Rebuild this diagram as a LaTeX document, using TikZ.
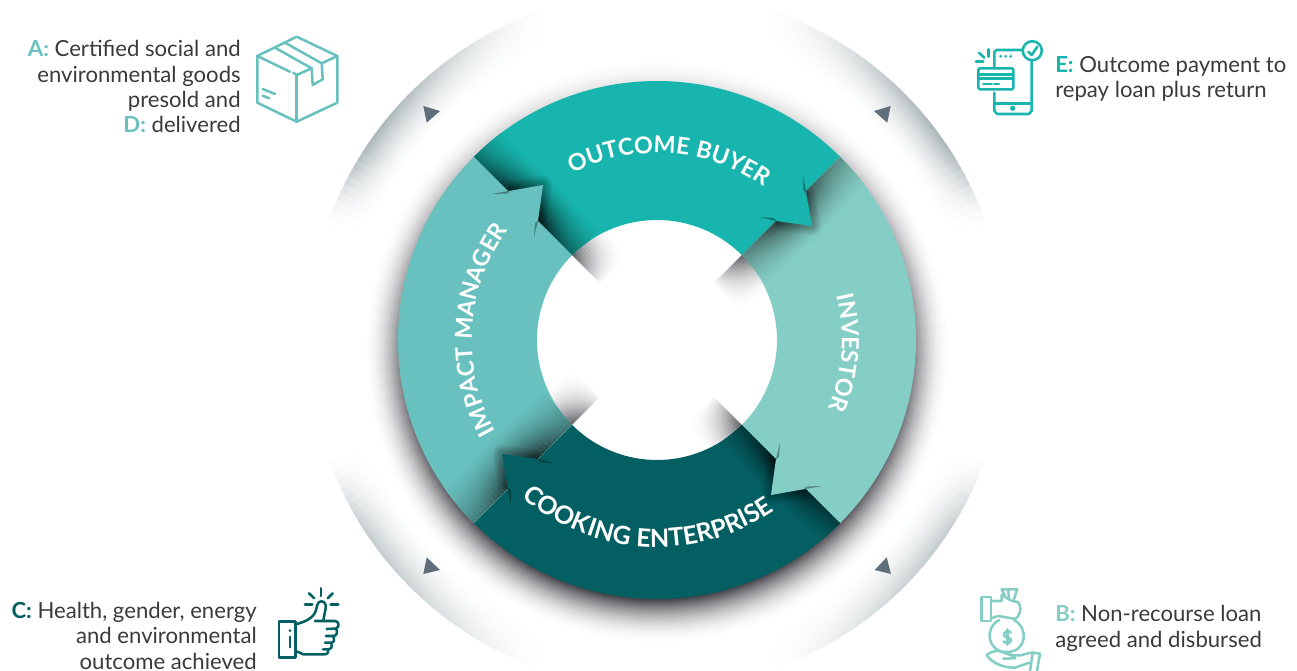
\documentclass[tikz,border=0pt]{standalone}
\usepackage{fontspec}
\setmainfont{Lato}
\newfontfamily\ringfont[LetterSpace=2]{Lato}
\usetikzlibrary{decorations.text}
\definecolor{cout}{HTML}{17B5AD}
\definecolor{cinv}{HTML}{84CEC5}
\definecolor{ccook}{HTML}{045F63}
\definecolor{cimp}{HTML}{68C1BF}
\definecolor{shc}{HTML}{26262E}
\definecolor{bandc}{HTML}{74868B}
\definecolor{tric}{HTML}{5F6F7C}
\definecolor{txt}{HTML}{3A3A3A}
\tikzset{
  icon/.style={line width=1.9pt,line cap=round,line join=round},
  marker/.style={fill=tric},
  blocktext/.style={inner sep=0pt,text=txt,font=\fontsize{16.6}{19}\selectfont},
  ringtext/.style={decorate}
}
\newcommand\ringlab[2]{|\ringfont\bfseries\fontsize{#1}{#1}\selectfont\color{white}|#2}
\begin{document}
\begin{tikzpicture}[x=.75pt,y=.75pt]
\useasboundingbox (-657,-331) rectangle (640,340);
% outer grey bands
\foreach \ph/\sx/\sy/\st in {0/1/1/.60,1/-1/1/.60,2/-1/-1/.42,3/1/-1/.42}{
  \foreach \al in {19,20.5,...,70}{
    \pgfmathsetmacro\gu{min(1,(\al-18)/16)}
    \pgfmathsetmacro\gv{min(1,(72-\al)/36)}
    \pgfmathsetmacro\g{\gu*\gu*(3-2*\gu)*\gv*\gv*(3-2*\gv)}
    \foreach \r in {305,307,...,347}{
      \pgfmathsetmacro\f{pow((\r-304)/44,1.7)}
      \pgfmathsetmacro\v{100*\st*\g*\f}
      \ifdim\v pt<0.5pt\else
      \fill[bandc!\v!white,xscale=\sx,yscale=\sy] (\al:\r) -- (\al+1.7:\r) -- (\al+1.7:\r+2.4) -- (\al:\r+2.4) -- cycle;
      \fi
    }
  }
}
% shadow round the ring
\foreach \a in {0,3,...,357}{
  \pgfmathsetmacro\sn{sin(\a+1.5)}
  \pgfmathsetmacro\I{.09+.74*(1-\sn)/2}
  \pgfmathsetmacro\Re{281+22*(1-\sn)/2}
  \foreach \r in {303,301,...,257}{
    \pgfmathsetmacro\q{max(0,(\Re-\r)/(\Re-259))}
    \pgfmathsetmacro\v{min(100,100*\I*\q*\q)}
    \ifdim\v pt<0.4pt\else
    \fill[shc!\v!white] (\a:\r) -- (\a+3.3:\r) -- (\a+3.3:\r+2.5) -- (\a:\r+2.5) -- cycle;
    \fi
  }
}
% shadows falling into the hole
\foreach \k in {0,1,2,3}{
  \begin{scope}[rotate=135-90*\k]
    \foreach \t in {39,36,...,0}{
      \pgfmathsetmacro\tf{pow(1-\t/40,1.5)}
      \foreach \s in {78,81,...,123}{
        \pgfmathsetmacro\v{100*.72*\tf*(\s-78)/42}
        \ifdim\v pt<0.4pt\else
        \fill[shc!\v!white] (\s,-\t) rectangle (\s+3.4,-\t-3.4);
        \fi
      }
    }
  \end{scope}
}
% sectors with the shadow cast by the previous arrow
\foreach \k/\col/\pk/\wd in {0/cout/.92/38,1/cinv/.72/40,2/ccook/.8/30,3/cimp/.8/46}{
  \begin{scope}[rotate=-90*\k]
    \fill[\col] (135:259) arc[start angle=135,end angle=45,radius=259] -- (45:120) arc[start angle=45,end angle=135,radius=120] -- cycle;
    \begin{scope}
      \clip (135:259) arc[start angle=135,end angle=45,radius=259] -- (45:120) arc[start angle=45,end angle=135,radius=120] -- cycle;
      \begin{scope}[rotate=135]
        \foreach \s in {118,123,...,258}{
          \pgfmathsetmacro\ss{\pk*(.38+.62*exp(-pow((\s+2-185)/42,2)))}
          \foreach \t in {46,44,...,0}{
            \pgfmathsetmacro\q{max(0,1-\t/\wd)}
            \pgfmathsetmacro\v{100*\ss*pow(\q,1.5)}
            \ifdim\v pt<0.4pt\else
            \fill[black!\v!\col] (\s,-\t) rectangle (\s+5.4,-\t-2.4);
            \fi
          }
        }
      \end{scope}
      \foreach \lw in {18,14,10,6}{
        \draw[black,opacity=.06,line width=\lw*.75pt,line join=round] (-148,149) -- (-114,155) -- (-119,119);
      }
    \end{scope}
  \end{scope}
}
% arrow heads
\foreach \k/\up in {0/cimp,1/cout,2/cinv,3/ccook}{
  \begin{scope}[rotate=-90*\k]
    \fill[\up] (-148,149) -- (-114,155) -- (-119,119) -- (-140,125) -- cycle;
    \fill[\up!65!black] (-165,146) -- (-147,149.3) -- (-150,146.5) -- cycle;
    \fill[\up!65!black] (-123,103) -- (-118.7,120) -- (-122,116.5) -- cycle;
  \end{scope}
}
% ring labels
\path[ringtext,decoration={text along path,text align=center,text={\ringlab{17.5}{OUTCOME BUYER}}}] (131:187) arc[start angle=131,end angle=41,radius=187];
\path[ringtext,decoration={text along path,text align=center,text={\ringlab{17.5}{INVESTOR}}}] (41:185) arc[start angle=41,end angle=-49,radius=185];
\path[ringtext,decoration={text along path,text align=center,text={\ringlab{18.8}{COOKING ENTERPRISE}}}] (217:207) arc[start angle=217,end angle=317,radius=207];
\path[ringtext,decoration={text along path,text align=center,text={\ringlab{17.5}{IMPACT MANAGER}}}] (221.5:185) arc[start angle=221.5,end angle=131.5,radius=185];
% everything below is placed in reference pixel coordinates
\begin{scope}[shift={(-657,340)},yscale=-1]
  % small triangles
  \fill[marker] (423.3,106) -- (440,111) -- (426.7,122.7) -- cycle;
  \fill[marker] (890.7,106) -- (874,111) -- (887.3,122.7) -- cycle;
  \fill[marker] (426.7,557.3) -- (440,570) -- (423.3,574) -- cycle;
  \fill[marker] (886.7,557.3) -- (891,574) -- (874.7,570) -- cycle;
  % box icon
  \begin{scope}[icon,cimp]
    \draw (296.7,36.7) -- (337.3,56) -- (337.3,102.7) -- (296.7,121.7) -- (257.3,102.7) -- (257.3,56) -- cycle;
    \draw (257.3,56) -- (290,71.7);
    \draw (293.3,72.7) -- (296.7,75) -- (311.7,68.3);
    \draw (296.7,75) -- (296.7,121.7);
    \draw (321.7,63.3) -- (337.3,56);
    \draw (276,48.3) -- (311.7,68.3) -- (312.7,85) -- (322.7,79.3) -- (321.7,63.3) -- (285,42.7);
    \draw (262.7,89) -- (275,94);
    \draw (262.7,95.7) -- (269.3,98.3);
  \end{scope}
  % phone icon
  \begin{scope}[icon,cout]
    \draw (994.3,67.3) -- (994.3,52) to[out=90,in=180] (996.5,50) -- (1023,50);
    \draw (1031.7,61) -- (1031.7,111) to[out=-90,in=0] (1028.5,114) -- (997.5,114) to[out=180,in=-90] (994.3,111) -- (994.3,92.7);
    \draw (994.3,103.3) -- (1031.7,103.3);
    \fill (1012.7,108.3) circle[radius=2.6];
    \fill (1000.7,56.3) circle[radius=1.5];
    \fill (1005.7,56.3) circle[radius=1.5];
    \fill (1010.7,56.3) circle[radius=1.5];
    \draw (1032.3,50.7) circle[radius=9.5];
    \draw (1028.3,51.7) -- (1031.7,55) -- (1037.3,46.7);
    \draw[rounded corners=1pt] (978.3,68.3) rectangle (1013.3,89.3);
    \draw (978.3,74.3) -- (1013.3,74.3);
    \draw (978.3,78.3) -- (1013.3,78.3);
    \draw (983.3,84) -- (991.7,84);
    \draw (994.3,84) -- (999,84);
    \draw (988.3,49.3) -- (988.3,56.7);
    \draw (979,52.7) -- (984.3,57.7);
    \draw (976,61.7) -- (983.3,61.7);
  \end{scope}
  % thumb icon
  \begin{scope}[icon,ccook]
    \draw (279,621.7) rectangle (295.7,657.3);
    \fill (290,630.7) circle[radius=1.5];
    \draw (290,636.7) -- (290,647.3);
    \draw (295.7,624.3) .. controls (305,622) and (314,618) .. (316,610) -- (317.3,605) .. controls (318,600) and (325,600) .. (325.7,605) .. controls (326,610) and (324,615) .. (323.3,621) -- (315,621);
    \draw (323.3,621) -- (335,621) .. controls (339,621) and (340,627) .. (336,628.5) -- (326.7,629);
    \draw (336,628.5) .. controls (338,632) and (337,636) .. (333,636) -- (326,636);
    \draw (333,636) .. controls (335,640) and (334,642.7) .. (331,642.7) -- (325,642.7);
    \draw (331,642.7) .. controls (333,647) and (331,649.3) .. (328,649.3) -- (323,649.3);
    \draw (328,649.3) .. controls (329,653) and (327,654.3) .. (324,654.3) -- (303.3,654.3) -- (295.7,651);
    \draw (321,588.3) -- (321,596);
    \draw (309,593.3) -- (314.3,598.3);
    \draw (332.7,593.3) -- (327.7,598.3);
    \draw (305,604.7) -- (312.3,604.7);
    \draw (330.7,604.7) -- (338.3,604.7);
  \end{scope}
  % money icon
  \begin{scope}[icon,cinv]
    \draw (981.7,597) rectangle (991,621);
    \draw (991,601) -- (1001.7,601) -- (1001.7,595) -- (1012,601) -- (1018,602) .. controls (1021,606) and (1021,612) .. (1019,614) .. controls (1018,618) and (1015,620) .. (1010,618) -- (998.3,616) -- (991,618.3);
    \draw (1001.7,589.3) -- (1017.3,589.3) -- (1014,599);
    \draw (1001.7,589.3) -- (1005,596);
    \draw (1008,590) -- (1009,598);
    \draw (999,620) .. controls (984,628) and (987,652) .. (1006.7,652) .. controls (1027,652) and (1029,628) .. (1014,620);
    \draw (1007.3,629.5) -- (1007.3,644.5);
    \draw (1011,632.5) .. controls (1008,630) and (1003,632) .. (1004,635.5) .. controls (1005,638) and (1010.5,637) .. (1011,640) .. controls (1011.5,643) and (1006,644) .. (1003.5,641.5);
    \draw (986.7,655.3) .. controls (992,650) and (1000,650) .. (1005,653) .. controls (1010,655) and (1018,657) .. (1025,654) -- (1032,652.5);
    \draw (1005,653) .. controls (1010,655) and (1016,656) .. (1015,658.3) -- (1003.3,658.7);
    \draw (986.7,655.3) .. controls (993,664) and (1005,668) .. (1015,667.7) -- (1029.3,662.7);
    \draw (1032.7,652.7) -- (1040,653.7) -- (1037,671);
    \draw (1032.7,652.7) -- (1030,671);
  \end{scope}
  % texts
  \node[blocktext,align=right,anchor=base east] (ta) at (241,132.7) {\textcolor{cimp}{\bfseries A:} Certified social and\\environmental goods\\presold and\\\textcolor{cimp}{\bfseries D:} delivered};
  \node[blocktext,align=right,anchor=base east] (tc) at (257,669) {\textcolor{ccook}{\bfseries C:} Health, gender, energy\\and environmental\\outcome achieved};
  \node[blocktext,align=left,anchor=base west] (te) at (1055,98) {\textcolor{cout}{\bfseries E:} Outcome payment to\\repay loan plus return};
  \node[blocktext,align=left,anchor=base west] (tb) at (1055,647) {\textcolor{cinv}{\bfseries B:} Non-recourse loan\\agreed and disbursed};
\end{scope}
\end{tikzpicture}
\end{document}
